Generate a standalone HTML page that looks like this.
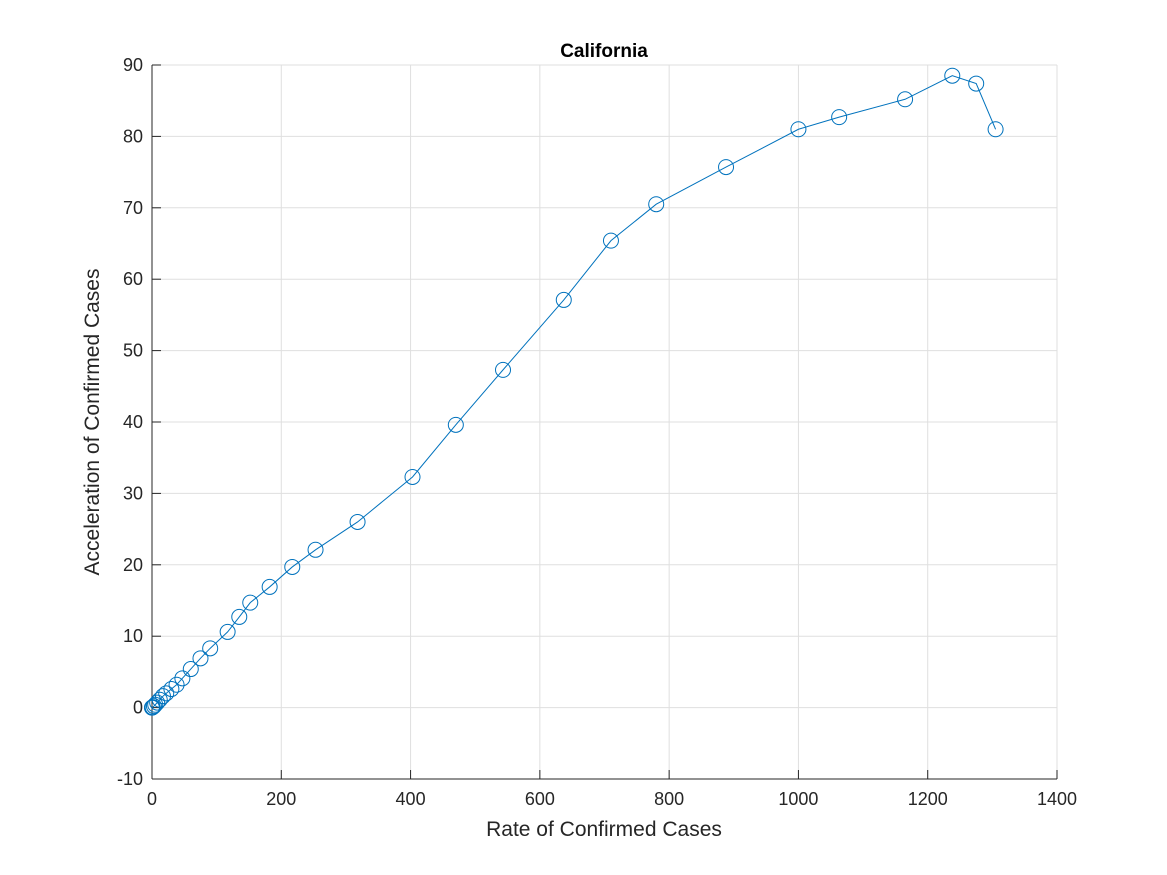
<!DOCTYPE html>
<html><head><meta charset="utf-8"><style>
body{margin:0;background:#fff;}
svg{display:block;font-family:"Liberation Sans",sans-serif;}
</style></head><body>
<svg id="chart" width="1167" height="875">
<rect width="1167" height="875" fill="#fff"/>
<g id="grid"></g>
<g id="axes"></g>
<g id="series"></g>
<text x="604" y="57" text-anchor="middle" font-size="19" font-weight="bold" fill="#000">California</text>
<text x="604" y="836" text-anchor="middle" font-size="21" fill="#262626">Rate of Confirmed Cases</text>
<text transform="translate(99,422) rotate(-90)" text-anchor="middle" font-size="21" fill="#262626">Acceleration of Confirmed Cases</text>
</svg>
<script>
const rateValues=[0,0,1,3,5,8,12,17,22,30,38,47,60,75,90,117,135,152,182,217,253,318,403,470,543,637,710,780,888,1000,1063,1165,1238,1275,1305];
const accelValues=[0,0,0.05,0.2,0.4,0.7,1.1,1.6,2.0,2.6,3.2,4.1,5.4,6.9,8.3,10.6,12.7,14.7,16.9,19.7,22.1,26,32.3,39.6,47.3,57.1,65.4,70.5,75.7,81,82.7,85.2,88.5,87.4,81];
const xTicks=[0,200,400,600,800,1000,1200,1400];
const yTicks=[-10,0,10,20,30,40,50,60,70,80,90];
const L=152,R=1057,T=65,B=779;
const xs=v=>L+(v-0)/1400*(R-L);
const ys=v=>B-(v+10)/100*(B-T);
const NS="http://www.w3.org/2000/svg";
function mk(tag,attrs,parent){const e=document.createElementNS(NS,tag);for(const k in attrs)e.setAttribute(k,attrs[k]);parent.appendChild(e);return e;}
const grid=document.getElementById('grid'),axes=document.getElementById('axes'),series=document.getElementById('series');
xTicks.forEach(t=>{const x=xs(t);
 const g=mk('line',{x1:x,x2:x,y1:T,y2:B,stroke:'#dfdfdf','stroke-width':1},grid);
 
 
 mk('line',{x1:x,x2:x,y1:B,y2:B-9,stroke:'#262626'},axes);
 const tx=mk('text',{x:x,y:B+26,'text-anchor':'middle','font-size':18,fill:'#262626'},axes);tx.textContent=t;
 
 
});
yTicks.forEach(t=>{const y=ys(t);
 const g=mk('line',{x1:L,x2:R,y1:y,y2:y,stroke:'#dfdfdf','stroke-width':1},grid);
 
 
 mk('line',{x1:L,x2:L+9,y1:y,y2:y,stroke:'#262626'},axes);
 const tx=mk('text',{x:L-9,y:y+6,'text-anchor':'end','font-size':18,fill:'#262626'},axes);tx.textContent=t;
 
 
});
mk('line',{x1:L,x2:R,y1:B,y2:B,stroke:'#262626'},axes);
mk('line',{x1:L,x2:L,y1:T,y2:B,stroke:'#262626'},axes);
const pts=rateValues.map((v,i)=>xs(v)+','+ys(accelValues[i])).join(' ');
const pl=mk('polyline',{points:pts,fill:'none',stroke:'#0072bd','stroke-width':1},series);


rateValues.forEach((v,i)=>{
 const c=mk('circle',{cx:xs(v),cy:ys(accelValues[i]),r:7.5,fill:'none',stroke:'#0072bd','stroke-width':1},series);
 
 
});
</script>
</body></html>
